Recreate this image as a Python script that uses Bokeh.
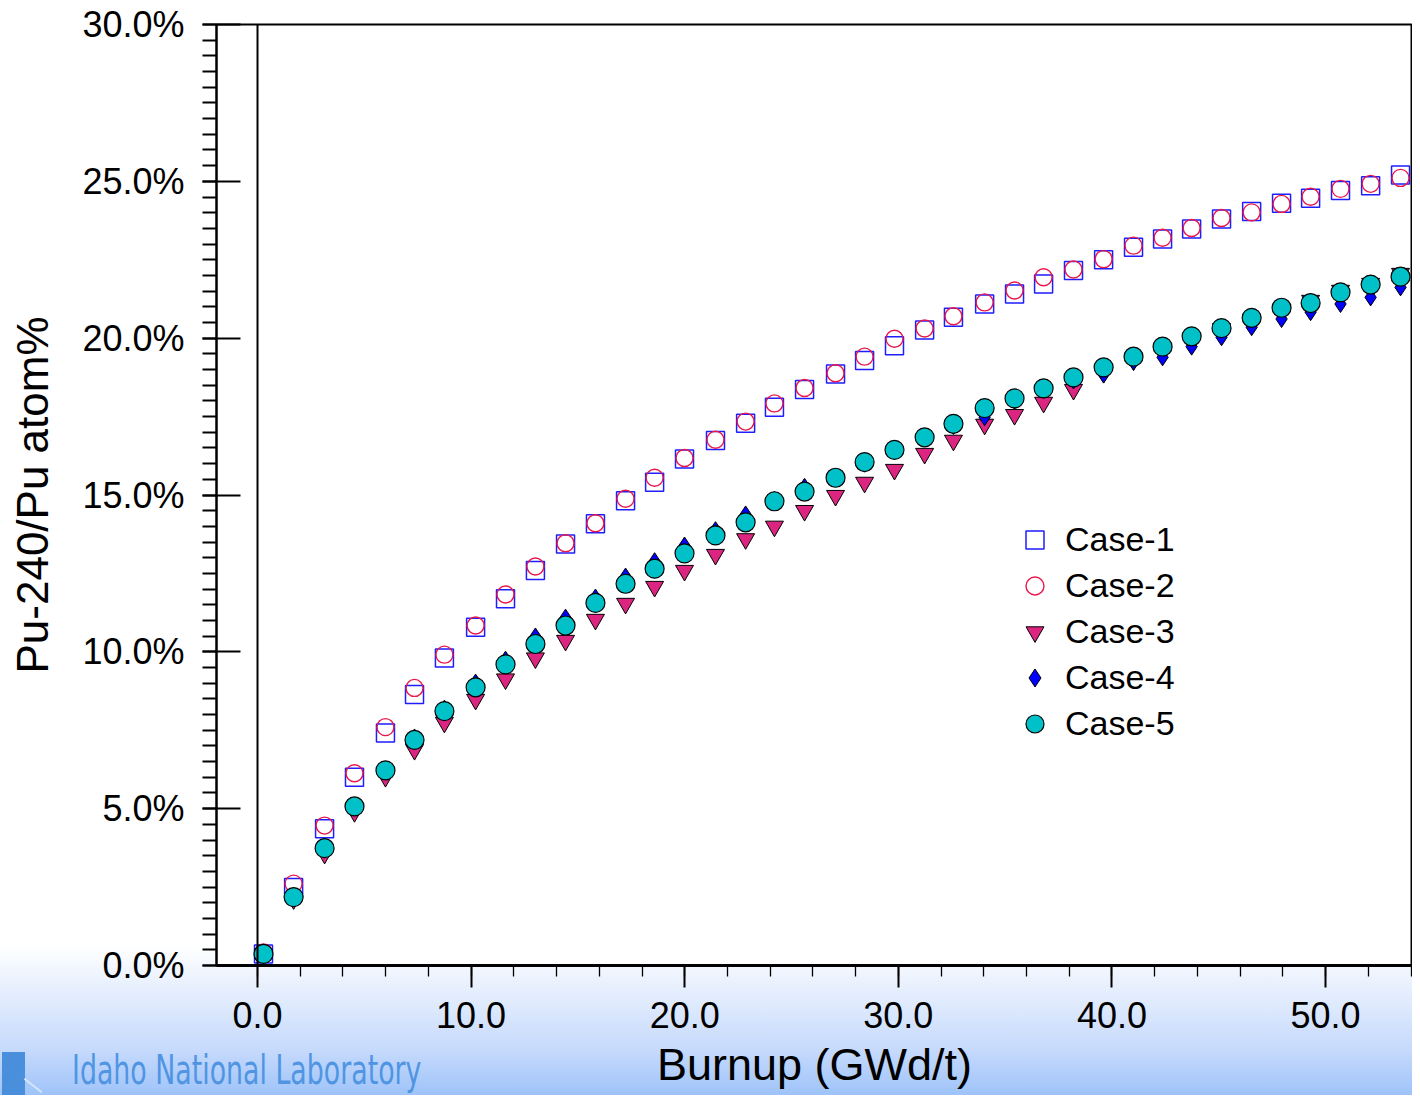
from bokeh.plotting import figure
from bokeh.layouts import column
from bokeh.models import (Range1d, SingleIntervalTicker, PrintfTickFormatter, Span,
                          Legend, LegendItem, ColumnDataSource, Div)
from bokeh.embed import file_html
from bokeh.resources import INLINE

# ---------------- data ----------------
burnup = [0.28, 1.69, 3.14, 4.54, 5.99, 7.35, 8.75, 10.21, 11.61, 13.01, 14.42, 15.82,
          17.23, 18.59, 19.99, 21.44, 22.85, 24.20, 25.61, 27.06, 28.42, 29.82, 31.23,
          32.58, 34.04, 35.44, 36.80, 38.20, 39.61, 41.01, 42.37, 43.73, 45.13, 46.54,
          47.94, 49.30, 50.70, 52.11, 53.51]

case1 = [0.37, 2.49, 4.36, 6.00, 7.41, 8.64, 9.80, 10.78, 11.69, 12.59, 13.44, 14.08,
         14.82, 15.41, 16.15, 16.74, 17.29, 17.80, 18.36, 18.86, 19.29, 19.76, 20.26,
         20.67, 21.09, 21.41, 21.73, 22.16, 22.50, 22.90, 23.16, 23.48, 23.80, 24.04,
         24.30, 24.46, 24.71, 24.86, 25.20]

case2 = [0.42, 2.61, 4.46, 6.13, 7.60, 8.85, 9.91, 10.84, 11.83, 12.72, 13.46, 14.10,
         14.88, 15.55, 16.18, 16.76, 17.34, 17.92, 18.41, 18.88, 19.41, 19.98, 20.31,
         20.70, 21.14, 21.52, 21.94, 22.19, 22.52, 22.95, 23.20, 23.51, 23.83, 24.01,
         24.28, 24.51, 24.76, 24.92, 25.11]

case3 = [0.35, 2.12, 3.57, 4.90, 6.02, 6.88, 7.75, 8.48, 9.13, 9.80, 10.36, 11.03,
         11.54, 12.08, 12.59, 13.10, 13.60, 14.00, 14.50, 14.98, 15.40, 15.81, 16.32,
         16.74, 17.25, 17.56, 17.95, 18.36, 18.90, 19.30, 19.55, 19.90, 20.30, 20.60,
         20.90, 21.20, 21.52, 21.74, 22.06]

case4 = [0.37, 2.20, 3.75, 5.08, 6.25, 7.27, 8.19, 9.02, 9.75, 10.49, 11.09, 11.73,
         12.40, 12.89, 13.39, 13.88, 14.38, 14.85, 15.26, 15.59, 16.00, 16.40, 16.80,
         17.20, 17.48, 18.00, 18.35, 18.65, 18.84, 19.25, 19.39, 19.73, 20.03, 20.35,
         20.61, 20.83, 21.09, 21.30, 21.62]

case5 = [0.37, 2.18, 3.74, 5.07, 6.22, 7.19, 8.11, 8.87, 9.60, 10.25, 10.84, 11.56,
         12.17, 12.65, 13.14, 13.71, 14.13, 14.80, 15.11, 15.55, 16.05, 16.44, 16.84,
         17.27, 17.77, 18.08, 18.40, 18.75, 19.07, 19.41, 19.73, 20.06, 20.32, 20.65,
         20.97, 21.12, 21.46, 21.71, 21.96]

labels = ["Case-1", "Case-2", "Case-3", "Case-4", "Case-5"]
x_label = "Burnup (GWd/t)"
y_label = "Pu-240/Pu atom%"
logo_text = "Idaho National Laboratory"

FONT = "Liberation Sans"

# ---------------- figure ----------------
p = figure(width=1412, height=1095, output_backend="svg", toolbar_location=None,
           x_range=Range1d(-1.92, 54.07), y_range=Range1d(0, 30),
           min_border_left=216, min_border_top=24, min_border_bottom=130,
           min_border_right=0)
p.styles = {"background": "linear-gradient(to bottom, #ffffff 0px, #ffffff 945px, "
                          "#eef4fe 975px, #c6dafc 1050px, #9ec3f9 1095px)"}
p.border_fill_alpha = 0
p.background_fill_color = "white"
p.outline_line_color = "black"
p.outline_line_width = 2
p.grid.visible = False

# x axis
xa = p.xaxis[0]
xa.ticker = SingleIntervalTicker(interval=10, num_minor_ticks=5)
xa.formatter = PrintfTickFormatter(format="%.1f")
xa.axis_line_width = 3
xa.major_tick_out = 22
xa.major_tick_in = 0
xa.minor_tick_out = 11
xa.minor_tick_in = 0
xa.major_tick_line_width = 2
xa.minor_tick_line_width = 1.3
xa.major_label_standoff = 14
xa.major_label_text_font = FONT
xa.major_label_text_font_size = "36px"
xa.major_label_text_color = "black"
xa.axis_label = x_label
xa.axis_label_text_font = FONT
xa.axis_label_text_font_size = "45px"
xa.axis_label_text_font_style = "normal"
xa.axis_label_text_color = "black"
xa.axis_label_standoff = 8

# y axis
ya = p.yaxis[0]
ya.ticker = SingleIntervalTicker(interval=5, num_minor_ticks=10)
ya.formatter = PrintfTickFormatter(format="%.1f%%")
ya.axis_line_width = 2
ya.major_tick_out = 14
ya.major_tick_in = 24
ya.minor_tick_out = 14
ya.minor_tick_in = 0
ya.major_tick_line_width = 2
ya.minor_tick_line_width = 2
ya.major_label_standoff = 18
ya.major_label_text_font = FONT
ya.major_label_text_font_size = "36px"
ya.major_label_text_color = "black"
ya.axis_label = y_label
ya.axis_label_text_font = FONT
ya.axis_label_text_font_size = "44px"
ya.axis_label_text_font_style = "normal"
ya.axis_label_text_color = "black"
ya.axis_label_standoff = 22

# vertical line at zero burnup
p.add_layout(Span(location=0, dimension="height", line_color="black", line_width=2))

src = ColumnDataSource(dict(x=burnup, c1=case1, c2=case2, c3=case3, c4=case4, c5=case5))

r1 = p.scatter("x", "c1", source=src, marker="square", size=18,
               fill_alpha=0, line_color="#1e1eff", line_width=1.5)
r2 = p.scatter("x", "c2", source=src, marker="circle", size=17,
               fill_alpha=0, line_color="#e8174a", line_width=1.4)
r3 = p.scatter("x", "c3", source=src, marker="inverted_triangle", size=18,
               fill_color="#dc2580", line_color="black", line_width=1)
r4 = p.scatter("x", "c4", source=src, marker="diamond", size=17,
               fill_color="#0000ff", line_color="black", line_width=1)
r5 = p.scatter("x", "c5", source=src, marker="circle", size=19,
               fill_color="#00c0c8", line_color="black", line_width=1.2)

legend = Legend(items=[LegendItem(label=l, renderers=[r]) for l, r in
                       zip(labels, [r1, r2, r3, r4, r5])],
                location=(796, 219), orientation="vertical",
                glyph_width=45, glyph_height=45, label_height=45,
                spacing=1, padding=0, margin=0, label_standoff=8,
                border_line_alpha=0, background_fill_alpha=0,
                label_text_font=FONT, label_text_font_size="34px",
                label_text_color="black")
p.add_layout(legend)

# logo (icon block + text) overlaid on the bottom-left of the slide
logo_html = (
    '<div style="position:relative; width:600px; height:50px; overflow:hidden;">'
    '<div style="position:absolute; left:2px; top:7px; width:23px; height:43px; '
    'background:#4a8fdc;"></div>'
    '<div style="position:absolute; left:25px; top:33px; width:22px; height:2px; '
    'background:#d6e5fb; transform:rotate(38deg); transform-origin:0 0;"></div>'
    '<span style="position:absolute; left:72px; top:5px; display:inline-block; '
    'font-family:\'DejaVu Sans\', sans-serif; font-size:40px; line-height:40px; '
    'color:#4f95e3; white-space:nowrap; transform:scaleX(0.67); transform-origin:0 0;">'
    + logo_text + '</span></div>')
logo = Div(text=logo_html, width=600, height=50, margin=(-50, 0, 0, 0),
           styles={"position": "relative", "z-index": "5"})

layout = column(p, logo, spacing=0)

open("out.html", "w").write(file_html(layout, INLINE))
